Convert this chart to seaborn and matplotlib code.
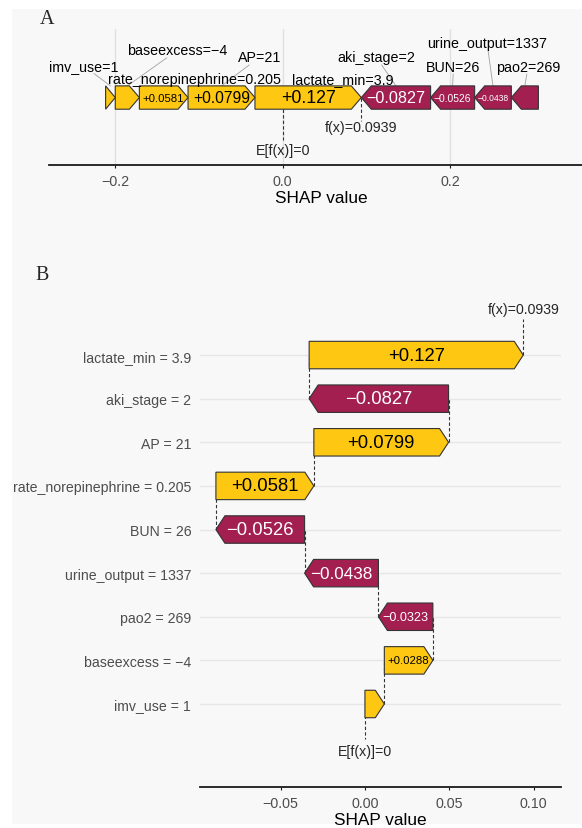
import numpy as np
import pandas as pd
import matplotlib
matplotlib.use("Agg")
import matplotlib.pyplot as plt
from matplotlib.patches import Polygon, Rectangle
import seaborn as sns

# SHAP explanation of one prediction
features = ["lactate_min", "aki_stage", "AP", "rate_norepinephrine", "BUN",
            "urine_output", "pao2", "baseexcess", "imv_use"]
feature_values = ["3.9", "2", "21", "0.205", "26", "1337", "269", "\u22124", "1"]
shap_values = [0.127, -0.0827, 0.0799, 0.0581, -0.0526, -0.0438, -0.0323, 0.0288, 0.0115]
baseline = 0.0

force_ticks = [-0.2, 0.0, 0.2]
waterfall_ticks = [-0.05, 0.0, 0.05, 0.10]

# label placement for the force plot annotations (x in SHAP units, y in bar heights)
force_label_pos = {
    "imv_use": (-0.2372, 1.35),
    "baseexcess": (-0.126, 2.02),
    "rate_norepinephrine": (-0.105, 0.80),
    "AP": (-0.028, 1.72),
    "lactate_min": (0.072, 0.80),
    "aki_stage": (0.112, 1.72),
    "urine_output": (0.244, 2.33),
    "BUN": (0.204, 1.33),
    "pao2": (0.293, 1.33),
}

POS = "#fec812"
NEG = "#a21f50"
EDGE = "#333333"
BG = "#f8f8f8"

sns.set_theme(style="white")
plt.rcParams["font.family"] = ["Liberation Sans", "DejaVu Sans"]
plt.rcParams["axes.unicode_minus"] = True

df = pd.DataFrame({"feature": features, "value": feature_values, "shap": shap_values})
fx = baseline + df["shap"].sum()


def fmt_signed(v):
    return f"{v:+.3g}".replace("-", "\u2212")


def fmt_tick(v, nd):
    return f"{v:.{nd}f}".replace("-", "\u2212")


def arrow(ax, x0, x1, yc, h, head, color):
    """Pentagon arrow from x0 (flat end) to x1 (tip)."""
    d = np.sign(x1 - x0)
    hw = min(head, abs(x1 - x0))
    xb = x1 - d * hw
    pts = [(x0, yc - h / 2), (xb, yc - h / 2), (x1, yc), (xb, yc + h / 2), (x0, yc + h / 2)]
    ax.add_patch(Polygon(pts, closed=True, facecolor=color, edgecolor=EDGE,
                         linewidth=0.8, joinstyle="miter", zorder=3))


W, H = 582, 829
fig = plt.figure(figsize=(W / 100, H / 100), dpi=100)
fig.patch.set_facecolor("white")
fig.add_artist(Rectangle((12 / W, 4 / H), 1 - 12 / W, 1 - 14 / H, transform=fig.transFigure,
                         facecolor=BG, edgecolor="none", zorder=-10))


def box(l, t, r, b):
    return [l / W, 1 - b / H, (r - l) / W, (b - t) / H]


axA = fig.add_axes(box(49, 30, 594, 165.7))
axB = fig.add_axes(box(200.4, 295, 560.5, 788.3))
renderer = fig.canvas.get_renderer()


def fit_label(ax, txt, xc, yc, bar_px, max_pt, color, min_pt=5.0, fill=0.85):
    """Value label inside a bar, shrunk to fit the bar and dropped when too small."""
    avail = bar_px * fill
    t = ax.text(xc, yc, txt, ha="center", va="center", fontsize=max_pt, color=color, zorder=5)
    w = t.get_window_extent(renderer).width
    if w > avail:
        size = max_pt * avail / w
        if size < min_pt:
            t.remove()
            return
        t.set_fontsize(size)


def style_axis(ax, ticks, nd, title_pad):
    ax.set_facecolor("none")
    sns.despine(ax=ax, left=True, top=True, right=True)
    ax.spines["bottom"].set_color("#1a1a1a")
    ax.spines["bottom"].set_linewidth(1.3)
    ax.set_xticks(ticks)
    ax.set_xticklabels([fmt_tick(t, nd) for t in ticks])
    ax.tick_params(axis="x", bottom=True, length=2.5, width=0.8, color="#1a1a1a",
                   labelsize=10.3, labelcolor="#4d4d4d", pad=4)
    ax.set_xlabel("SHAP value", fontsize=12.4, color="black", labelpad=title_pad)


# ---------------- A: force plot ----------------
axA.set_xlim(-0.279, 0.3717)
axA.set_ylim(-2.88, 2.94)
style_axis(axA, force_ticks, 1, 1.5)
axA.set_yticks([])
for t in force_ticks:
    axA.axvline(t, color="#e0e0e0", lw=1.0, zorder=0)

pxA = axA.bbox.width / (0.3717 + 0.279)
headA = 10 / pxA

pos = df[df["shap"] > 0].sort_values("shap", ascending=False)
neg = df[df["shap"] < 0].sort_values("shap", ascending=True)

segs = []
end = fx
for _, r in pos.iterrows():
    start = end - r["shap"]
    arrow(axA, start, end, 0, 1, headA, POS)
    fit_label(axA, fmt_signed(r["shap"]), (start + end) / 2, 0, r["shap"] * pxA, 12.8, "black")
    segs.append((r["feature"], r["value"], (start + end) / 2))
    end = start
start = fx
for _, r in neg.iterrows():
    stop = start - r["shap"]
    arrow(axA, stop, start, 0, 1, headA, NEG)
    fit_label(axA, fmt_signed(r["shap"]), (start + stop) / 2, 0, -r["shap"] * pxA, 12.8, "white")
    segs.append((r["feature"], r["value"], (start + stop) / 2))
    start = stop

for feat, val, xc in segs:
    lx, ly = force_label_pos[feat]
    axA.text(lx, ly, f"{feat}={val}", ha="center", va="center", fontsize=10.3,
             color="black", zorder=6)
    y0 = ly - 0.32
    if y0 > 0.6:
        t = (ly - y0) / (ly - 0.5)
        x0 = lx + (xc - lx) * t
        axA.plot([x0, xc], [y0, 0.5], color="#a0a0a0", lw=0.6, zorder=2)

axA.plot([baseline, baseline], [0, -1.83], ls=(0, (3, 2)), color=EDGE, lw=0.8, zorder=1)
axA.text(baseline, -2.24, f"E[f(x)]={baseline:.3g}", ha="center", va="center", fontsize=10.3)
axA.plot([fx, fx], [0, -1.02], ls=(0, (3, 2)), color=EDGE, lw=0.8, zorder=1)
axA.text(fx, -1.28, f"f(x)={fx:.3g}", ha="center", va="center", fontsize=10.3)

# ---------------- B: waterfall plot ----------------
n = len(df)
xlimB = (-0.0976, 0.116)
axB.set_xlim(*xlimB)
axB.set_ylim(-1.91, 9.4)
style_axis(axB, waterfall_ticks, 2, 1.5)
rows = np.arange(n)[::-1]  # first feature on top
axB.set_yticks(rows)
axB.set_yticklabels([f"{f} = {v}" for f, v in zip(features, feature_values)])
axB.tick_params(axis="y", length=0, labelsize=10.2, labelcolor="#4d4d4d", pad=6.5)
for y in rows:
    axB.axhline(y, color="#e6e6e6", lw=1.0, zorder=0)

pxB = axB.bbox.width / (xlimB[1] - xlimB[0])
headB = 9 / pxB
bar_h = 0.63

# cumulate from the bottom row upward
vals = np.array(shap_values)[::-1]
starts = baseline + np.concatenate([[0], np.cumsum(vals)[:-1]])
ends = starts + vals
for k, (s, e, v) in enumerate(zip(starts, ends, vals)):
    y = k
    arrow(axB, s, e, y, bar_h, headB, POS if v > 0 else NEG)
    fit_label(axB, fmt_signed(v), (s + e) / 2, y, abs(v) * pxB, 13.3,
              "black" if v > 0 else "white")
    if k > 0:
        axB.plot([s, s], [y - 1, y], ls=(0, (3, 2)), color=EDGE, lw=0.8, zorder=1)

axB.plot([fx, fx], [n - 1, 8.83], ls=(0, (3, 2)), color=EDGE, lw=0.8, zorder=1)
axB.text(fx, 9.05, f"f(x)={fx:.3g}", ha="center", va="center", fontsize=10.2)
axB.plot([baseline, baseline], [0, -0.80], ls=(0, (3, 2)), color=EDGE, lw=0.8, zorder=1)
axB.text(baseline, -1.08, f"E[f(x)]={baseline:.3g}", ha="center", va="center", fontsize=10.2)

# panel letters
fig.text(47.5 / W, 1 - 19 / H, "A", family=["Liberation Serif", "DejaVu Serif"],
         fontsize=14.5, ha="center", va="center")
fig.text(41.7 / W, 1 - 275.5 / H, "B", family=["Liberation Serif", "DejaVu Serif"],
         fontsize=14.5, ha="center", va="center")

fig.savefig("out.png", dpi=100, facecolor="white")
